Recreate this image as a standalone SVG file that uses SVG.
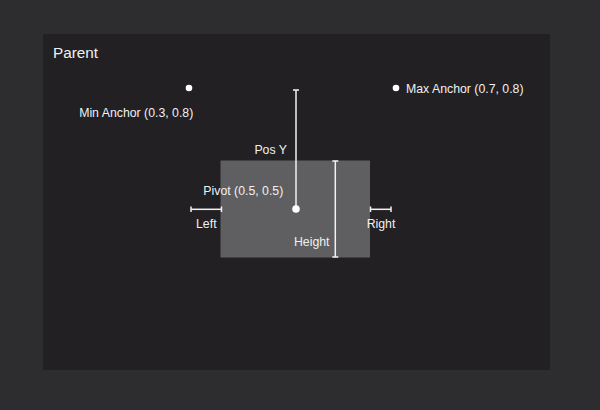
<svg xmlns="http://www.w3.org/2000/svg" width="600" height="410" viewBox="0 0 600 410">
  <style>
    .lbl { font-family: "Liberation Sans", Arial, sans-serif; font-size: 12.3px; fill: #f0f0f0; }
    .ttl { font-family: "Liberation Sans", Arial, sans-serif; font-size: 15.3px; fill: #f0f0f0; }
    .dim { stroke: #f2f2f2; stroke-width: 1.5; fill: none; }
    .dot { fill: #ffffff; }
  </style>
  <rect x="0" y="0" width="600" height="410" fill="#2d2c2e"/>
  <g id="parent">
    <rect x="43" y="34" width="507" height="336" fill="#222023"/>
    <text class="ttl" x="53" y="58.3">Parent</text>
  </g>
  <g id="min-anchor">
    <circle class="dot" cx="189" cy="88" r="3.3"/>
    <text class="lbl" x="193.3" y="117.3" text-anchor="end">Min Anchor (0.3, 0.8)</text>
  </g>
  <g id="max-anchor">
    <circle class="dot" cx="396" cy="88" r="3.3"/>
    <text class="lbl" x="406" y="93">Max Anchor (0.7, 0.8)</text>
  </g>
  <g id="child">
    <rect x="220.5" y="160.5" width="149.5" height="97" fill="#5f5e60"/>
  </g>
  <g id="connectors">
    <!-- Pos Y -->
    <line class="dim" x1="296" y1="90" x2="296" y2="209"/>
    <line class="dim" x1="293" y1="90" x2="299" y2="90"/>
    <!-- Height -->
    <line class="dim" x1="335.3" y1="161" x2="335.3" y2="257"/>
    <line class="dim" x1="332.3" y1="161" x2="338.3" y2="161"/>
    <line class="dim" x1="332.3" y1="257" x2="338.3" y2="257"/>
    <!-- Left -->
    <line class="dim" x1="191" y1="209.3" x2="221.5" y2="209.3"/>
    <line class="dim" x1="191" y1="206.5" x2="191" y2="212"/>
    <line class="dim" x1="221.5" y1="206.5" x2="221.5" y2="212"/>
    <!-- Right -->
    <line class="dim" x1="370.5" y1="209.3" x2="391" y2="209.3"/>
    <line class="dim" x1="370.5" y1="206.5" x2="370.5" y2="212"/>
    <line class="dim" x1="391" y1="206.5" x2="391" y2="212"/>
  </g>
  <g id="pivot">
    <circle class="dot" cx="296" cy="209" r="3.8"/>
    <text class="lbl" x="283.3" y="195.3" text-anchor="end">Pivot (0.5, 0.5)</text>
  </g>
  <g id="labels">
    <text class="lbl" x="287" y="154" text-anchor="end">Pos Y</text>
    <text class="lbl" x="206.3" y="227.5" text-anchor="middle">Left</text>
    <text class="lbl" x="381" y="227.5" text-anchor="middle">Right</text>
    <text class="lbl" x="329.5" y="245.6" text-anchor="end">Height</text>
  </g>
</svg>
